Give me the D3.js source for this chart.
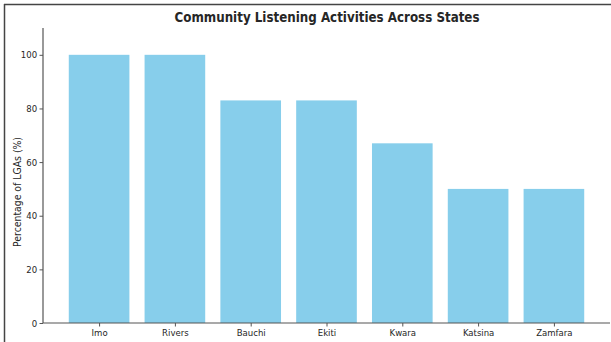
<!DOCTYPE html>
<html>
<head>
<meta charset="utf-8">
<script src="https://cdn.jsdelivr.net/npm/d3@7"></script>
<style>
  body { margin: 0; background: #fff; }
  svg { display: block; }
  text { font-family: "DejaVu Sans", sans-serif; fill: #262626; }
</style>
</head>
<body>
<svg id="chart"></svg>
<script>
const states = ['Imo', 'Rivers', 'Bauchi', 'Ekiti', 'Kwara', 'Katsina', 'Zamfara']
const percentages = [100, 100, 83, 83, 67, 50, 50]
const yTicks = [0, 20, 40, 60, 80, 100]

const width = 611
const height = 342
const margin = { top: 28, right: 1, bottom: 19, left: 43 }

const svg = d3.select('#chart')
  .attr('width', width)
  .attr('height', height)

// frame round the picture (top + left only show in the crop)
svg.append('line')
  .attr('x1', 4).attr('y1', 4.5).attr('x2', width).attr('y2', 4.5)
  .attr('stroke', '#444').attr('stroke-width', 1.5)
svg.append('line')
  .attr('x1', 4.5).attr('y1', 4).attr('x2', 4.5).attr('y2', height)
  .attr('stroke', '#444').attr('stroke-width', 1.5)

const plotW = width - margin.left - margin.right
const plotH = height - margin.top - margin.bottom

// matplotlib style: bar width 0.8, 5% margins on x
let n = states.length
let lo = -0.4 - 0.34, hi = (n - 1) + 0.4 + 0.34
let xLin = d3.scaleLinear().domain([lo, hi]).range([0, plotW])
let y = d3.scaleLinear().domain([0, 110]).range([plotH, 0])

let g = svg.append('g')
  .attr('transform', `translate(${margin.left},${margin.top})`)

g.selectAll('rect.bar')
  .data(percentages)
  .enter().append('rect')
  .attr('class', 'bar')
  .attr('x', (d, i) => xLin(i - 0.4))
  .attr('width', (d, i) => xLin(i + 0.4) - xLin(i - 0.4))
  .attr('y', d => y(d))
  .attr('height', d => plotH - y(d))
  .attr('fill', '#87ceeb')

// y axis
let yAxis = g.append('g')
  .call(d3.axisLeft(y).tickValues(yTicks).tickSize(3.5).tickPadding(3))
yAxis.select('.domain').attr('stroke', '#555').attr('stroke-width', 1.2)
  .attr('d', `M0,${plotH}V0`)
yAxis.selectAll('.tick line').attr('stroke', '#555')
yAxis.selectAll('.tick text').attr('font-size', 9.5).attr('fill', '#262626')
  .attr('transform', 'scale(0.9,1)')

// x axis
let xAxis = g.append('g')
  .attr('transform', `translate(0,${plotH})`)
  .call(d3.axisBottom(xLin).tickValues(d3.range(n)).tickFormat(i => states[i]).tickSize(3.5).tickPadding(3))
xAxis.select('.domain').attr('stroke', '#555').attr('stroke-width', 1.2)
  .attr('d', `M0,0H${plotW}`)
xAxis.selectAll('.tick line').attr('stroke', '#555')
xAxis.selectAll('.tick text').attr('font-size', 9.5).attr('fill', '#262626')
  .attr('transform', 'scale(0.9,1)')

// labels
svg.append('text')
  .attr('x', 327)
  .attr('y', 22)
  .attr('text-anchor', 'middle')
  .attr('font-size', 14)
  .attr('font-weight', 'bold')
  .attr('textLength', 305)
  .attr('lengthAdjust', 'spacingAndGlyphs')
  .attr('fill', '#262626')
  .text('Community Listening Activities Across States')

svg.append('text')
  .attr('transform', 'translate(20.5,192) rotate(-90)')
  .attr('text-anchor', 'middle')
  .attr('font-size', 11)
  .attr('textLength', 110)
  .attr('lengthAdjust', 'spacingAndGlyphs')
  .attr('fill', '#262626')
  .text('Percentage of LGAs (%)')
</script>
</body>
</html>
